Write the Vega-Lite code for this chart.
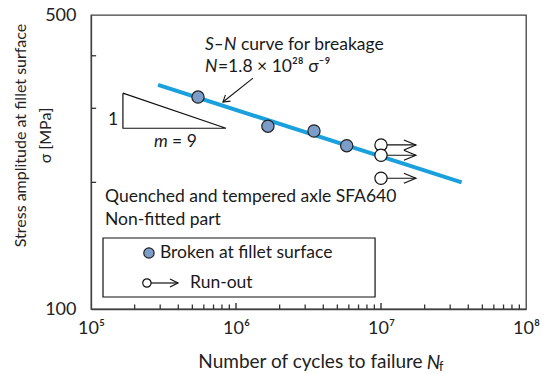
{
  "$schema": "https://vega.github.io/schema/vega-lite/v6.json",
  "width": 435,
  "height": 294,
  "autosize": {"type": "none"},
  "padding": {"left": 91, "top": 15, "right": 21, "bottom": 65},
  "background": "white",
  "config": {
    "view": {"stroke": "#404040", "strokeWidth": 1.3},
    "font": "Lato",
    "axis": {"grid": false, "domainColor": "#404040", "domainWidth": 1.3, "labelFont": "Lato", "labelFontSize": 18, "labelColor": "#222222", "titleFont": "Lato", "titleFontSize": 16, "titleFontWeight": "normal", "titleColor": "#222222"}
  },
  "resolve": {"axis": {"x": "independent", "y": "independent"}},
  "datasets": {
    "curve": [{"N": 290000, "S": 341}, {"N": 36000000, "S": 200}],
    "broken": [{"N": 547000, "S": 319}, {"N": 1660000, "S": 272}, {"N": 3450000, "S": 265}, {"N": 5800000, "S": 244.5}],
    "runout": [{"N": 10000000, "N2": 17400000, "S": 245.5}, {"N": 10000000, "N2": 17400000, "S": 232}, {"N": 10000000, "N2": 17400000, "S": 204.6}],
    "triangle": [{"N": 166000, "S": 326, "o": 1}, {"N": 166000, "S": 269, "o": 2}, {"N": 853000, "S": 269, "o": 3}, {"N": 166000, "S": 326, "o": 4}],
    "pointer": [{"N": 1310000, "S": 354, "N2": 813000, "S2": 310.5}],
    "legendbox": [{"N": 121000, "N2": 9100000, "S": 106.8, "S2": 147.5}],
    "legendBroken": [{"N": 251000, "S": 135.9}],
    "legendRun": [{"N": 243000, "N2": 398000, "S": 115.3}],
    "xMajorTicks": [{"N": 1000000}, {"N": 10000000}],
    "xMinorTicks": [{"N": 200000}, {"N": 300000}, {"N": 400000}, {"N": 500000}, {"N": 600000}, {"N": 700000}, {"N": 800000}, {"N": 900000}, {"N": 2000000}, {"N": 3000000}, {"N": 4000000}, {"N": 5000000}, {"N": 6000000}, {"N": 7000000}, {"N": 8000000}, {"N": 9000000}, {"N": 20000000}, {"N": 30000000}, {"N": 40000000}, {"N": 50000000}, {"N": 60000000}, {"N": 70000000}, {"N": 80000000}, {"N": 90000000}],
    "yTicks": [{"S": 200}, {"S": 300}, {"S": 400}],
    "textNormal": [
      {"N": 1082000, "S": 424.5, "label": "curve for breakage"},
      {"N": 751000, "S": 376.3, "label": "=1.8 × 10²⁸ σ⁻⁹"},
      {"N": 131000, "S": 281.4, "label": "1"},
      {"N": 362000, "S": 250, "label": "= 9"},
      {"N": 124900, "S": 184.9, "label": "Quenched and tempered axle SFA640"},
      {"N": 124900, "S": 162.8, "label": "Non-fitted part"},
      {"N": 299000, "S": 135.9, "label": "Broken at fillet surface"},
      {"N": 482000, "S": 115.3, "label": "Run-out"}
    ],
    "textItalic": [
      {"N": 611000, "S": 424.5, "label": "S–N"},
      {"N": 611000, "S": 376.3, "label": "N"},
      {"N": 272000, "S": 250, "label": "m"}
    ],
    "titleItalic": [{"N": 20700000, "S": 74.5, "label": "N"}],
    "textSub": [{"N": 25100000, "S": 72.8, "label": "f"}]
  },
  "layer": [
    {
      "data": {"name": "triangle"},
      "mark": {"type": "line", "color": "#111111", "strokeWidth": 1.2},
      "encoding": {
        "x": {"field": "N", "type": "quantitative", "scale": {"type": "log", "domain": [100000, 100000000], "nice": false},
          "axis": {"orient": "bottom", "title": "Number of cycles to failure", "titleFontSize": 19, "titleX": 219, "titlePadding": 15,
            "values": [100000, 1000000, 10000000, 100000000], "ticks": false,
            "labelExpr": "datum.value == 100000 ? '10⁵' : datum.value == 1000000 ? '10⁶' : datum.value == 10000000 ? '10⁷' : '10⁸'",
            "labelPadding": 10, "labelFlush": false, "labelOverlap": false}},
        "y": {"field": "S", "type": "quantitative", "scale": {"type": "log", "domain": [100, 500], "nice": false},
          "axis": {"orient": "left", "title": ["Stress amplitude  at fillet surface", "σ  [MPa]"], "titleLineHeight": 25, "titleX": -63, "titleY": 120,
            "values": [100, 500], "format": "d", "ticks": false,
            "labelPadding": 15, "labelFlush": false, "labelOverlap": false}},
        "order": {"field": "o", "type": "quantitative"}
      }
    },
    {
      "data": {"name": "xMajorTicks"},
      "mark": {"type": "rule", "color": "#333333", "strokeWidth": 1.4},
      "encoding": {
        "x": {"field": "N", "type": "quantitative", "axis": null},
        "y": {"datum": 100, "type": "quantitative", "axis": null},
        "y2": {"datum": 103.4}
      }
    },
    {
      "data": {"name": "xMinorTicks"},
      "mark": {"type": "rule", "color": "#333333", "strokeWidth": 1.3},
      "encoding": {
        "x": {"field": "N", "type": "quantitative", "axis": null},
        "y": {"datum": 100, "type": "quantitative", "axis": null},
        "y2": {"datum": 102.5}
      }
    },
    {
      "data": {"name": "yTicks"},
      "mark": {"type": "rule", "color": "#333333", "strokeWidth": 1.3},
      "encoding": {
        "x": {"datum": 100000, "type": "quantitative", "axis": null},
        "x2": {"datum": 108500},
        "y": {"field": "S", "type": "quantitative", "axis": null}
      }
    },
    {
      "data": {"name": "curve"},
      "mark": {"type": "line", "color": "#1aa0dc", "strokeWidth": 4},
      "encoding": {
        "x": {"field": "N", "type": "quantitative", "axis": null},
        "y": {"field": "S", "type": "quantitative", "axis": null}
      }
    },
    {
      "data": {"name": "runout"},
      "mark": {"type": "rule", "color": "#111111", "strokeWidth": 1.2},
      "encoding": {
        "x": {"field": "N", "type": "quantitative", "axis": null},
        "x2": {"field": "N2"},
        "y": {"field": "S", "type": "quantitative", "axis": null}
      }
    },
    {
      "data": {"name": "runout"},
      "mark": {"type": "point", "shape": "M-2.4,-1L0,0L-2.4,1", "size": 100, "filled": false, "stroke": "#111111", "strokeWidth": 1.2, "opacity": 1},
      "encoding": {
        "x": {"field": "N2", "type": "quantitative", "axis": null},
        "y": {"field": "S", "type": "quantitative", "axis": null}
      }
    },
    {
      "data": {"name": "runout"},
      "mark": {"type": "point", "shape": "circle", "size": 150, "filled": true, "fill": "white", "stroke": "#111111", "strokeWidth": 1.2, "opacity": 1},
      "encoding": {
        "x": {"field": "N", "type": "quantitative", "axis": null},
        "y": {"field": "S", "type": "quantitative", "axis": null}
      }
    },
    {
      "data": {"name": "broken"},
      "mark": {"type": "point", "shape": "circle", "size": 150, "filled": true, "fill": "#7c9dc8", "stroke": "#222222", "strokeWidth": 1.2, "opacity": 1},
      "encoding": {
        "x": {"field": "N", "type": "quantitative", "axis": null},
        "y": {"field": "S", "type": "quantitative", "axis": null}
      }
    },
    {
      "data": {"name": "pointer"},
      "mark": {"type": "rule", "color": "#111111", "strokeWidth": 1.1},
      "encoding": {
        "x": {"field": "N", "type": "quantitative", "axis": null},
        "x2": {"field": "N2"},
        "y": {"field": "S", "type": "quantitative", "axis": null},
        "y2": {"field": "S2"}
      }
    },
    {
      "data": {"name": "pointer"},
      "mark": {"type": "point", "shape": "M-1.6,-1L0,0L-1.6,1", "size": 64, "filled": false, "stroke": "#111111", "strokeWidth": 1.1, "opacity": 1, "angle": 141},
      "encoding": {
        "x": {"field": "N2", "type": "quantitative", "axis": null},
        "y": {"field": "S2", "type": "quantitative", "axis": null}
      }
    },
    {
      "data": {"name": "legendbox"},
      "mark": {"type": "rect", "fill": "white", "fillOpacity": 0, "stroke": "#111111", "strokeWidth": 1.2},
      "encoding": {
        "x": {"field": "N", "type": "quantitative", "axis": null},
        "x2": {"field": "N2"},
        "y": {"field": "S", "type": "quantitative", "axis": null},
        "y2": {"field": "S2"}
      }
    },
    {
      "data": {"name": "legendBroken"},
      "mark": {"type": "point", "shape": "circle", "size": 107, "filled": true, "fill": "#7c9dc8", "stroke": "#222222", "strokeWidth": 1.2, "opacity": 1},
      "encoding": {
        "x": {"field": "N", "type": "quantitative", "axis": null},
        "y": {"field": "S", "type": "quantitative", "axis": null}
      }
    },
    {
      "data": {"name": "legendRun"},
      "mark": {"type": "rule", "color": "#111111", "strokeWidth": 1.2},
      "encoding": {
        "x": {"field": "N", "type": "quantitative", "axis": null},
        "x2": {"field": "N2"},
        "y": {"field": "S", "type": "quantitative", "axis": null}
      }
    },
    {
      "data": {"name": "legendRun"},
      "mark": {"type": "point", "shape": "M-2,-1L0,0L-2,1", "size": 64, "filled": false, "stroke": "#111111", "strokeWidth": 1.2, "opacity": 1},
      "encoding": {
        "x": {"field": "N2", "type": "quantitative", "axis": null},
        "y": {"field": "S", "type": "quantitative", "axis": null}
      }
    },
    {
      "data": {"name": "legendRun"},
      "mark": {"type": "point", "shape": "circle", "size": 70, "filled": true, "fill": "white", "stroke": "#111111", "strokeWidth": 1.2, "opacity": 1},
      "encoding": {
        "x": {"field": "N", "type": "quantitative", "axis": null},
        "y": {"field": "S", "type": "quantitative", "axis": null}
      }
    },
    {
      "data": {"name": "textNormal"},
      "mark": {"type": "text", "align": "left", "baseline": "middle", "fontSize": 17.5, "color": "#1a1a1a"},
      "encoding": {
        "x": {"field": "N", "type": "quantitative", "axis": null},
        "y": {"field": "S", "type": "quantitative", "axis": null},
        "text": {"field": "label"}
      }
    },
    {
      "data": {"name": "textItalic"},
      "mark": {"type": "text", "align": "left", "baseline": "middle", "fontSize": 17.5, "fontStyle": "italic", "color": "#1a1a1a"},
      "encoding": {
        "x": {"field": "N", "type": "quantitative", "axis": null},
        "y": {"field": "S", "type": "quantitative", "axis": null},
        "text": {"field": "label"}
      }
    },
    {
      "data": {"name": "titleItalic"},
      "mark": {"type": "text", "align": "left", "baseline": "middle", "fontSize": 19, "fontStyle": "italic", "color": "#222222"},
      "encoding": {
        "x": {"field": "N", "type": "quantitative", "axis": null},
        "y": {"field": "S", "type": "quantitative", "axis": null},
        "text": {"field": "label"}
      }
    },
    {
      "data": {"name": "textSub"},
      "mark": {"type": "text", "align": "left", "baseline": "middle", "fontSize": 12.5, "color": "#222222"},
      "encoding": {
        "x": {"field": "N", "type": "quantitative", "axis": null},
        "y": {"field": "S", "type": "quantitative", "axis": null},
        "text": {"field": "label"}
      }
    }
  ]
}
